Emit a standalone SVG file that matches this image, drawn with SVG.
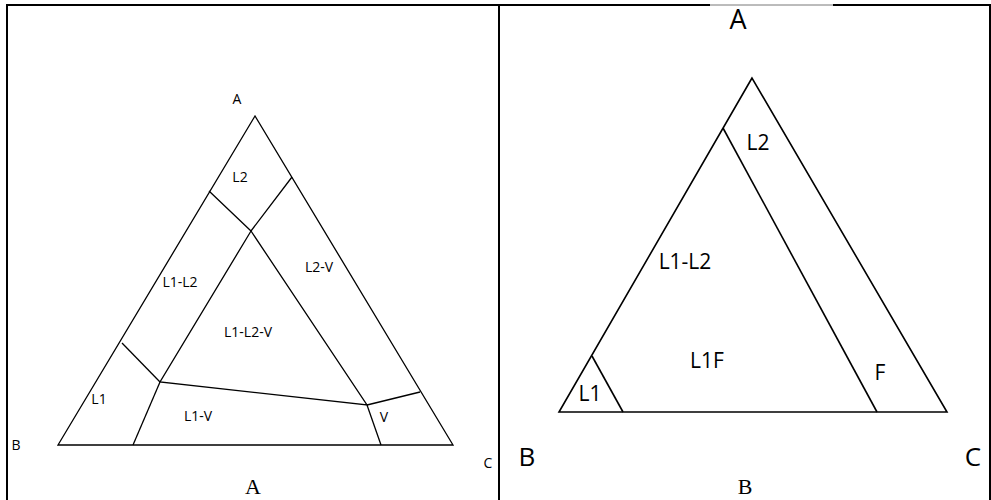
<svg xmlns="http://www.w3.org/2000/svg" width="991" height="500" viewBox="0 0 991 500">
<style>
.frame{stroke:#000;stroke-width:2;fill:none}
.ln{stroke:#000;stroke-width:1.3;fill:none;stroke-linejoin:miter}
.lnb{stroke:#000;stroke-width:1.6;fill:none;stroke-linejoin:miter}
.s{font-family:"Open Sans","Noto Sans",sans-serif;font-size:14px;fill:#000;text-anchor:middle}
.m{font-family:"Open Sans","Noto Sans",sans-serif;font-size:21px;fill:#000;text-anchor:middle}
.cap{font-family:"Liberation Serif","Times New Roman",serif;font-size:22px;fill:#000;text-anchor:middle}
</style>
<rect width="991" height="500" fill="#fff"/>
<g id="frame">
<path class="frame" d="M7,500 V5 H710 M833,5 H990 V500 M499,5 V500"/>
<line x1="710" y1="5" x2="833" y2="5" stroke="#555" stroke-width="0.8"/>
</g>
<g id="diagramA">
<g id="triangleA">
<polygon class="ln" points="255,116 58,445 453,445"/>
</g>
<g id="boundariesA">
<polyline class="ln" points="209,191 251,231 292,177"/>
<polyline class="ln" points="251,231 160,382 367,405 251,231"/>
<line class="ln" x1="160" y1="382" x2="122" y2="343"/>
<line class="ln" x1="160" y1="382" x2="133" y2="445"/>
<line class="ln" x1="367" y1="405" x2="420" y2="392"/>
<line class="ln" x1="367" y1="405" x2="381" y2="445"/>
</g>
<g id="labelsA">
<text class="s" x="237" y="104">A</text>
<text class="s" x="240" y="182">L2</text>
<text class="s" x="180" y="287">L1-L2</text>
<text class="s" x="319" y="272">L2-V</text>
<text class="s" x="248" y="337">L1-L2-V</text>
<text class="s" x="99" y="404">L1</text>
<text class="s" x="198" y="421">L1-V</text>
<text class="s" x="384" y="422">V</text>
<text class="s" x="16" y="450">B</text>
<text class="s" x="488" y="468">C</text>
<text class="cap" x="253" y="494">A</text>
</g>
</g>
<g id="diagramB">
<g id="triangleB">
<polygon class="lnb" points="752,78 559,412 947,412"/>
</g>
<g id="boundariesB">
<line class="lnb" x1="723" y1="128" x2="877" y2="412"/>
<line class="lnb" x1="592" y1="356" x2="623" y2="412"/>
</g>
<g id="labelsB">
<text class="m" x="738" y="29" style="font-size:27px">A</text>
<text class="m" x="758" y="150">L2</text>
<text class="m" x="685" y="269">L1-L2</text>
<text class="m" x="707" y="368">L1F</text>
<text class="m" x="880" y="380">F</text>
<text class="m" x="590" y="401">L1</text>
<text class="m" x="527" y="466" style="font-size:26px">B</text>
<text class="m" x="973" y="466" style="font-size:26px">C</text>
<text class="cap" x="745" y="494">B</text>
</g>
</g>
</svg>
